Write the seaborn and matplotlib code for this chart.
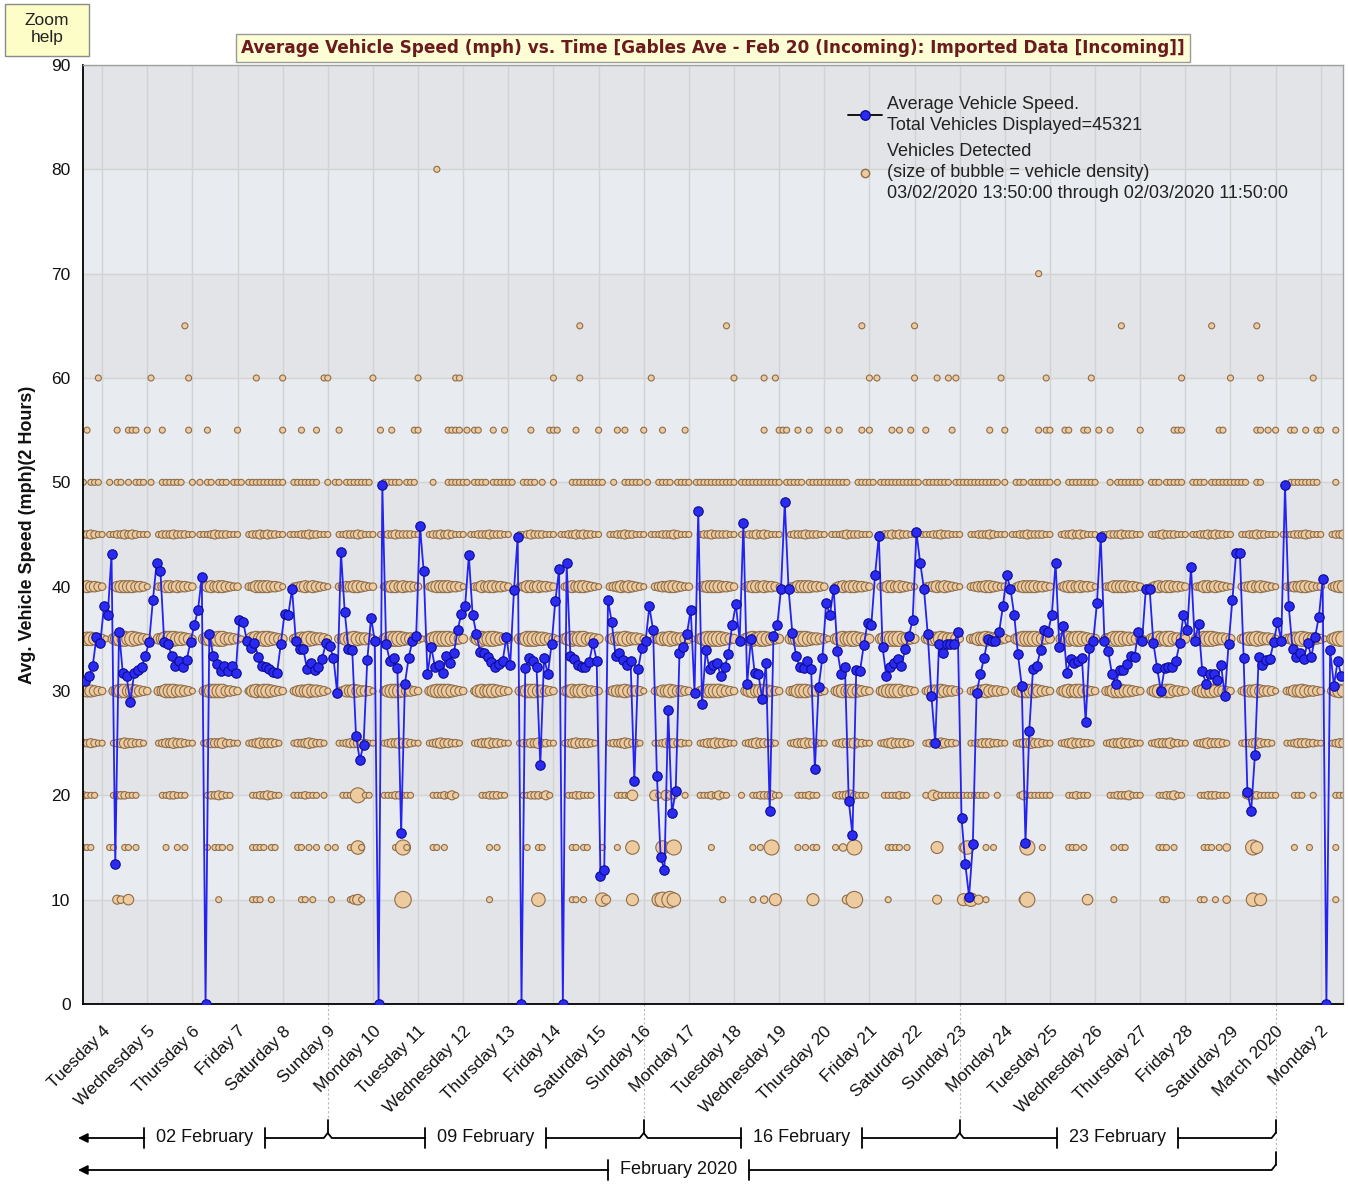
import numpy as np
import pandas as pd
import matplotlib
matplotlib.use('Agg')
from matplotlib import pyplot as plt
from matplotlib.lines import Line2D
from matplotlib.patches import Rectangle
import matplotlib.dates as mdates
import seaborn as sns

# ---- data ----
LINE_START = pd.Timestamp('2020-02-03 15:00')   # 2 hour averages
BUBBLE_START = pd.Timestamp('2020-02-03 14:00')  # bubble slots, 2 hours apart
VIEW = (pd.Timestamp('2020-02-03 13:50'), pd.Timestamp('2020-03-02 11:50'))

AVG_SPEED = [
    31.0, 31.4, 32.4, 35.2, 34.6, 38.1, 37.3, 43.1, 13.4, 35.7, 31.7,
    31.4, 28.9, 31.7, 32.0, 32.3, 33.4, 34.7, 38.7, 42.3, 41.5,
    34.7, 34.5, 33.4, 32.4, 32.9, 32.3, 33.0, 34.7, 36.3, 37.8,
    40.9, 0.0, 35.5, 33.4, 32.6, 31.9, 32.4, 31.9, 32.4, 31.7,
    36.8, 36.6, 34.8, 34.1, 34.6, 33.3, 32.4, 32.3, 32.1, 31.8,
    31.7, 34.5, 37.4, 37.3, 39.8, 34.8, 34.0, 34.0, 32.1, 32.7,
    32.0, 32.3, 33.1, 34.6, 34.3, 33.2, 29.8, 43.3, 37.6, 34.0,
    33.9, 25.7, 23.4, 24.8, 33.0, 37.0, 34.8, 0.0, 49.7, 34.5,
    32.9, 33.2, 32.2, 16.4, 30.7,
    33.2, 34.8, 35.3, 45.8, 41.5, 31.6, 34.2, 32.3, 32.5, 31.7,
    33.4, 32.7, 33.6, 35.8, 37.4, 38.1, 43.0, 37.3, 35.5, 33.7,
    33.6, 33.3, 32.8, 32.3, 32.6, 32.9, 35.2, 32.5, 39.7, 44.8,
    0.0, 32.2, 33.2, 32.9, 32.3, 22.9, 33.2, 31.6, 34.5, 38.6,
    41.7, 0.0, 42.3, 33.4, 33.1, 32.5, 32.3, 32.3, 32.8,
    34.6, 32.9, 12.3, 12.8, 38.7, 36.6, 33.4, 33.6, 33.0, 32.5,
    32.9, 21.4, 32.1, 34.1, 34.8, 38.1, 35.8, 21.9, 14.1, 12.8,
    28.2, 18.3, 20.4, 33.6, 34.2, 35.5, 37.8, 29.8, 47.3, 28.8,
    33.9, 32.1, 32.5, 32.7, 31.4, 32.3, 33.5, 36.3,
    38.3, 34.8, 46.1, 30.7, 35.0, 31.7, 31.6, 29.2, 32.7,
    18.5, 35.3, 36.3, 39.8, 48.1, 39.8, 35.6, 33.4, 32.3, 32.2,
    32.9, 32.1, 22.5, 30.4, 33.2, 38.4, 37.3, 39.8, 33.8, 31.6,
    32.3, 19.5, 16.2, 32.0, 31.9, 34.4, 36.5, 36.3, 41.1, 44.9,
    34.2, 31.4, 32.3, 32.7, 33.1, 32.4, 34.0, 35.3, 36.8, 45.2,
    42.3, 39.8, 35.5, 29.5, 25.0, 34.5, 33.6, 34.5, 34.5, 34.5,
    35.7, 17.8, 13.4, 10.3, 15.3, 29.8, 31.6, 33.2, 35.0, 34.8,
    34.8, 35.7, 38.1, 41.1, 39.8, 37.3, 33.5, 30.5, 15.4,
    26.2, 32.1, 32.4, 33.9, 35.8, 35.7, 37.3, 42.3, 34.2, 36.2,
    31.7, 33.1, 32.7, 32.9, 33.2, 27.0, 34.1, 34.8, 38.4, 44.8,
    34.8, 33.8, 31.6, 30.7, 32.0, 32.0, 32.6, 33.4, 33.3, 35.7,
    34.8, 39.8, 39.8, 34.6, 32.2, 30.0, 32.2, 32.3, 32.3, 32.9,
    34.6, 37.3, 35.8, 41.9, 34.8, 36.4, 31.9, 30.7, 31.6, 31.6,
    31.1, 32.5, 29.5, 34.5, 38.7, 43.2, 43.2, 33.2, 20.3, 18.5,
    23.9, 33.3, 32.5, 33.0, 33.1, 34.7, 36.6, 34.8, 49.7, 38.1,
    34.0, 33.3, 33.6, 33.1, 34.6, 33.3, 35.2, 37.1, 40.7, 0.0,
    33.9, 30.5, 32.9, 31.4,
]

# bubble rows: one digit per 2 hour slot (0 = none, 1..9 = bubble size)
# groups: Feb 3 14-22h, then one group of 12 slots (00..22h) per day, Mar 2 00-12h
ROW_25 = ("22321 100123433221 000123343321 100123334221 100123433321 000122343221 "
          "000112333221 100123343321 100123433221 000123343321 100122334221 100123433321 "
          "000122343221 000112333221 100123343321 100123433221 000123343321 100123334221 "
          "100123433321 000122343221 000112333221 100123343321 100123433221 000123343321 "
          "100123334221 100123433321 000122343221 000112333221 1001233")
ROW_30 = ("45543 200356656543 200346665543 100356666443 200256566543 200245565543 "
          "100235565443 100356665443 200356666543 200256566543 200346665543 200356566443 "
          "200245565443 100235565443 200356666543 200356566543 200346665443 200356566543 "
          "200356666443 200245565443 100235565443 200356666543 200356566543 200346665543 "
          "200356566443 200356665443 200245565443 100235565443 2003565")
ROW_35 = ("56654 310467767654 300457776654 200467677554 310367677654 300356676554 "
          "200346676554 200467776554 310467777654 300367677654 300457776654 310467677554 "
          "300356676554 200346676554 310467777654 300467677654 300457776554 310467677654 "
          "300467777554 300356676554 200346676554 310467777654 300467677654 300457776654 "
          "310467677554 300467776554 300356676554 200346676554 3104677")
ROW_40 = ("45443 200245555443 100235545443 200245455432 200235555443 100234545432 "
          "100234455432 200245545443 200245555443 100235455443 200235545443 200245455432 "
          "100234545432 100234455432 200245555443 200245545443 100235555443 200245455443 "
          "200235545432 100234545432 100234455432 200245555443 200245545443 100235555443 "
          "200245455443 200235545432 100234545432 100234455432 2002455")
ROW_45 = ("22321 101122323211 100122232221 101112322211 100122323221 101112232211 "
          "100112223211 101122322221 100122323211 101122232221 100112322211 101122323221 "
          "100112232211 101112223211 100122322221 101122323211 100122232221 101112322211 "
          "100122323221 101112232211 100112223211 101122322221 100122323211 101122232221 "
          "100112322211 101122323221 100112232211 101112223211 1001223")

# sparse rows: (slot, size)
ROW_10 = [(9, 3), (10, 2), (12, 4), (36, 1), (45, 1), (46, 1), (47, 1), (50, 1), (58, 1),
          (59, 1), (61, 1), (66, 1), (71, 1), (72, 3), (73, 4), (74, 1), (85, 8), (108, 1),
          (121, 6), (130, 1), (131, 1), (133, 1), (138, 6), (139, 3), (146, 5), (153, 6),
          (154, 7), (156, 8), (157, 6), (170, 1), (178, 1), (181, 2), (184, 5), (194, 5),
          (203, 3), (205, 8), (214, 1), (227, 3), (234, 5), (236, 6), (238, 3), (240, 1),
          (250, 3), (251, 7), (267, 4), (274, 1), (287, 1), (288, 1), (297, 1), (298, 1),
          (301, 1), (304, 2), (311, 6), (313, 5), (333, 1)]
ROW_15 = [(0, 1), (1, 1), (2, 1), (7, 1), (8, 1), (11, 1), (12, 1), (14, 1), (22, 1), (25, 1),
          (27, 1), (33, 1), (35, 1), (36, 1), (37, 1), (39, 1), (45, 1), (46, 1), (47, 1),
          (48, 1), (50, 1), (51, 1), (57, 1), (58, 1), (60, 1), (62, 1), (65, 1), (67, 1),
          (71, 1), (72, 1), (73, 6), (74, 1), (83, 1), (84, 2), (85, 7), (86, 1), (93, 1),
          (94, 1), (96, 1), (108, 1), (110, 1), (118, 1), (121, 1), (122, 1), (130, 1),
          (131, 1), (133, 1), (134, 1), (138, 1), (142, 1), (146, 6), (154, 6), (156, 4),
          (157, 7), (167, 1), (178, 1), (180, 1), (183, 7), (190, 1), (192, 1), (194, 1),
          (195, 1), (200, 1), (202, 2), (205, 7), (214, 1), (215, 1), (216, 1), (217, 1),
          (219, 1), (227, 5), (234, 3), (235, 6), (240, 1), (242, 1), (251, 7), (255, 1),
          (262, 1), (263, 1), (264, 1), (266, 1), (274, 1), (276, 1), (277, 1), (286, 1),
          (287, 1), (288, 1), (290, 1), (298, 1), (299, 1), (300, 1), (302, 1), (304, 2),
          (311, 7), (312, 5), (322, 1), (326, 1), (333, 1)]
ROW_20 = [(0, 2), (1, 1), (2, 1), (3, 1), (8, 1), (9, 2), (10, 2), (11, 2), (12, 1), (13, 1),
          (14, 1), (21, 1), (22, 1), (23, 2), (24, 2), (25, 1), (26, 1), (27, 1), (33, 1),
          (34, 2), (35, 2), (36, 3), (37, 2), (38, 1), (39, 1), (45, 1), (46, 1), (47, 2),
          (48, 2), (49, 3), (50, 2), (51, 1), (52, 1), (56, 1), (57, 1), (58, 1), (59, 2),
          (60, 1), (61, 1), (62, 1), (64, 1), (69, 1), (70, 1), (71, 1), (73, 7), (75, 1),
          (76, 1), (80, 1), (81, 1), (82, 1), (83, 2), (84, 2), (85, 1), (86, 1), (87, 1),
          (93, 1), (94, 1), (95, 1), (96, 2), (97, 1), (98, 3), (99, 1), (106, 1), (107, 1),
          (108, 2), (109, 2), (110, 2), (111, 1), (112, 1), (117, 1), (118, 1), (119, 2),
          (120, 2), (121, 2), (122, 1), (123, 3), (124, 1), (129, 1), (130, 1), (131, 2),
          (132, 2), (133, 1), (134, 1), (135, 1), (142, 1), (143, 1), (144, 1), (145, 1),
          (146, 4), (152, 4), (153, 1), (155, 4), (156, 2), (157, 2), (160, 1), (164, 1),
          (165, 1), (166, 1), (167, 2), (168, 1), (169, 3), (170, 1), (171, 1), (175, 1),
          (178, 1), (179, 1), (180, 2), (181, 2), (182, 2), (183, 3), (184, 1), (185, 1),
          (190, 1), (191, 1), (192, 1), (193, 2), (194, 1), (195, 1), (200, 1), (201, 2),
          (202, 2), (203, 3), (204, 4), (205, 2), (206, 1), (207, 1), (208, 1), (213, 1),
          (214, 1), (215, 1), (216, 1), (217, 2), (218, 1), (219, 1), (224, 1), (226, 4),
          (227, 2), (228, 1), (229, 1), (230, 1), (231, 1), (232, 1), (233, 1), (234, 1),
          (235, 1), (236, 1), (237, 1), (238, 1), (239, 1), (240, 1), (243, 1), (249, 1),
          (250, 3), (251, 1), (252, 1), (253, 1), (254, 1), (255, 1), (256, 1), (257, 1),
          (262, 1), (263, 1), (264, 2), (265, 1), (266, 1), (267, 1), (273, 1), (274, 1),
          (275, 2), (276, 2), (277, 2), (278, 3), (279, 1), (280, 1), (281, 1), (286, 1),
          (287, 1), (288, 2), (289, 2), (290, 3), (291, 1), (292, 1), (297, 1), (298, 1),
          (299, 2), (300, 2), (301, 2), (302, 1), (303, 1), (304, 1), (309, 1), (310, 3),
          (311, 2), (312, 2), (313, 1), (314, 1), (315, 1), (316, 1), (317, 1), (322, 1),
          (323, 1), (324, 1), (327, 1), (333, 1), (334, 1), (335, 1)]

# small dots only: slot numbers
ROW_50 = [0, 2, 3, 4, 7, 9, 10, 12, 14, 15, 16, 18, 21, 22, 23, 24, 25, 26, 29, 31, 33, 34,
          36, 37, 38, 40, 41, 42, 44, 45, 46, 47, 48, 49, 50, 51, 52, 53, 56, 57, 58, 59, 60,
          61, 62, 65, 67, 68, 70, 71, 72, 73, 74, 75, 76, 80, 81, 82, 83, 84, 86, 87, 88, 93,
          97, 98, 99, 100, 101, 102, 104, 105, 106, 107, 109, 110, 111, 112, 113, 114, 117,
          118, 119, 120, 122, 125, 130, 131, 132, 133, 134, 135, 136, 137, 138, 141, 144,
          145, 146, 147, 148, 150, 153, 154, 155, 156, 158, 159, 160, 161, 163, 164, 165,
          166, 167, 168, 169, 170, 171, 172, 173, 175, 176, 177, 178, 179, 180, 181, 182,
          183, 184, 185, 187, 188, 189, 190, 191, 193, 194, 195, 196, 197, 198, 199, 200,
          201, 202, 203, 206, 207, 208, 209, 210, 212, 213, 214, 215, 216, 217, 218, 219,
          220, 221, 222, 224, 225, 226, 227, 228, 229, 230, 232, 233, 234, 235, 236, 237,
          238, 239, 240, 241, 242, 243, 245, 248, 249, 250, 252, 253, 254, 255, 256, 257,
          259, 262, 263, 264, 265, 266, 267, 268, 269, 273, 275, 276, 277, 278, 279, 280,
          281, 284, 285, 286, 288, 289, 290, 291, 292, 295, 296, 297, 298, 300, 301, 302,
          303, 304, 305, 306, 307, 308, 309, 312, 313, 321, 322, 323, 324, 325, 326, 327,
          328, 333]
ROW_55 = [1, 9, 12, 13, 14, 17, 21, 28, 33, 41, 53, 58, 62, 68, 79, 82, 88, 89, 97, 98, 99,
          100, 102, 104, 105, 109, 112, 119, 124, 125, 126, 131, 137, 142, 144, 149, 154,
          160, 181, 185, 186, 187, 190, 193, 198, 201, 207, 209, 215, 217, 220, 224, 231,
          241, 245, 254, 256, 257, 261, 262, 266, 267, 270, 273, 281, 290, 291, 292, 302,
          303, 312, 313, 315, 317, 321, 322, 325, 328, 329, 333]
ROW_60 = [4, 18, 28, 46, 53, 64, 65, 77, 89, 99, 100, 125, 132, 151, 173, 181, 184, 209, 211,
          221, 227, 230, 232, 244, 256, 268, 292, 305, 313, 327]
ROW_65 = [27, 132, 171, 207, 221, 276, 300, 312]
ROW_70 = [254]
ROW_80 = [94]

DAY_LABELS = ['Tuesday 4', 'Wednesday 5', 'Thursday 6', 'Friday 7', 'Saturday 8', 'Sunday 9',
              'Monday 10', 'Tuesday 11', 'Wednesday 12', 'Thursday 13', 'Friday 14',
              'Saturday 15', 'Sunday 16', 'Monday 17', 'Tuesday 18', 'Wednesday 19',
              'Thursday 20', 'Friday 21', 'Saturday 22', 'Sunday 23', 'Monday 24',
              'Tuesday 25', 'Wednesday 26', 'Thursday 27', 'Friday 28', 'Saturday 29',
              'March 2020', 'Monday 2']
WEEK_LABELS = ['02 February', '09 February', '16 February', '23 February']
WEEK_ENDS = ['2020-02-09', '2020-02-16', '2020-02-23', '2020-03-01']
MONTH_LABEL = 'February 2020'

TITLE = ('Average Vehicle Speed (mph) vs. Time [Gables Ave - Feb 20 (Incoming): '
         'Imported Data [Incoming]]')

# ---- build frames ----
line_df = pd.DataFrame({
    'time': LINE_START + pd.to_timedelta(np.arange(len(AVG_SPEED)) * 2, unit='h'),
    'speed': AVG_SPEED,
})

records = []
for level, text in {25: ROW_25, 30: ROW_30, 35: ROW_35, 40: ROW_40, 45: ROW_45}.items():
    for i, ch in enumerate(text.replace(' ', '')):
        if ch != '0':
            records.append((level, i, int(ch)))
for level, pairs in {10: ROW_10, 15: ROW_15, 20: ROW_20}.items():
    for i, k in pairs:
        records.append((level, i, k))
for level, slots in {50: ROW_50, 55: ROW_55, 60: ROW_60, 65: ROW_65,
                     70: ROW_70, 80: ROW_80}.items():
    for i in slots:
        records.append((level, i, 1))
bub = pd.DataFrame(records, columns=['speed', 'slot', 'size'])
bub['time'] = BUBBLE_START + pd.to_timedelta(bub['slot'] * 2, unit='h')
bub = bub.sort_values(['time', 'speed'])

# marker area (pt^2) for each size digit
size_map = {k: ((4.5 + 1.5 * k) * 0.72) ** 2 for k in range(1, 10)}

# ---- figure ----
sns.set_theme(style='white')
plt.rcParams['font.family'] = ['Liberation Sans', 'DejaVu Sans']

W, H = 1348, 1190
fig = plt.figure(figsize=(W / 100, H / 100), dpi=100)
fig.patch.set_facecolor('white')
ax = fig.add_axes([83 / W, 1 - 1004 / H, 1260 / W, 939 / H])

# alternating bands
for lo in range(0, 90, 10):
    ax.axhspan(lo, lo + 10, color='#e3e4e7' if (lo // 10) % 2 == 0 else '#e8ebef',
               zorder=0, lw=0)

sns.scatterplot(data=bub, x='time', y='speed', size='size', sizes=size_map,
                color='#eecb9f', edgecolor='#8e6d4b', linewidth=0.8, alpha=1,
                legend=False, ax=ax, zorder=2)
sns.lineplot(data=line_df, x='time', y='speed', estimator=None, sort=False,
             color='#2323f2', lw=1.3, marker='o', markersize=6.8,
             markerfacecolor='#2a2af2', markeredgecolor='#0c0c90', markeredgewidth=0.8,
             ax=ax, zorder=3)

ax.set_xlim(VIEW[0], VIEW[1])
ax.set_ylim(0, 90)
ax.set_yticks(range(0, 91, 10))
ticks = pd.date_range('2020-02-04', '2020-03-02', freq='D')
ax.set_xticks(ticks)
ax.set_xticklabels(DAY_LABELS, rotation=45, ha='right', rotation_mode='anchor')
ax.tick_params(axis='both', which='major', direction='out', length=6, width=1,
               color='black', labelsize=12.5, labelcolor='#111111', pad=3)
ax.tick_params(axis='x', pad=8)
ax.grid(True, color='#d3d3d3', lw=1)
ax.set_axisbelow(True)
ax.set_xlabel('')
ax.set_ylabel('Avg. Vehicle Speed (mph)(2 Hours)', fontsize=13, fontweight='bold',
              color='#111111')
ax.yaxis.set_label_coords(-0.037, 0.5)
for side in ['left', 'bottom']:
    ax.spines[side].set_color('black')
    ax.spines[side].set_linewidth(1.3)
for side in ['top', 'right']:
    ax.spines[side].set_color('#a0a0a0')
    ax.spines[side].set_linewidth(1)

# legend
h_line = Line2D([], [], color='black', lw=1.3, marker='o', markersize=6.8,
                markerfacecolor='#2a2af2', markeredgecolor='#0c0c90')
h_bub = Line2D([], [], ls='none', marker='o', markersize=6,
               markerfacecolor='#eecb9f', markeredgecolor='#8e6d4b')
leg = ax.legend([h_line, h_bub],
                ['Average Vehicle Speed.\nTotal Vehicles Displayed=45321',
                 'Vehicles Detected\n(size of bubble = vehicle density)\n'
                 '03/02/2020 13:50:00 through 02/03/2020 11:50:00'],
                loc='upper left', bbox_to_anchor=(0.6, 0.977), frameon=False,
                fontsize=13.0, handlelength=1.9, handletextpad=0.25,
                labelspacing=0.55, borderpad=0)
for t in leg.get_texts():
    t.set_color('#222222')
    t.set_linespacing(1.3)

# title box and zoom help box
fig.text(713 / W, 1 - 48 / H, TITLE, ha='center', va='center', fontsize=12.2,
         fontweight='bold', color='#6a1c1c', family='DejaVu Sans',
         bbox=dict(boxstyle='square,pad=0.3', fc='#fdfdd6', ec='#9a9a9a', lw=1))
fig.patches.append(Rectangle((5 / W, 1 - 56 / H), 84 / W, 52 / H, transform=fig.transFigure,
                             fc='#fdfdc8', ec='#8a8a8a', lw=1))
fig.text(47 / W, 1 - 29 / H, 'Zoom\nhelp', ha='center', va='center', fontsize=12.5,
         color='#222222', linespacing=1.15)

# ---- bracket annotations below the axis ----
x0, x1 = mdates.date2num(VIEW[0]), mdates.date2num(VIEW[1])


def frac(d):
    return (mdates.date2num(pd.Timestamp(d)) - x0) / (x1 - x0)


px = 1 / 1260.0
py = 1 / 939.0
tr = ax.transAxes
kw = dict(color='black', lw=1.3, transform=tr, clip_on=False)
left = -5 * px


def bracket(y, start, end, label, half, arrow, tip_left):
    c = (start + end) / 2 if not arrow else (left + end) / 2 + 2 * px
    a, b = c - half, c + half
    ax.text(c, y, label, transform=tr, ha='center', va='center', fontsize=13,
            color='#111111')
    ax.plot([a, a], [y - 10 * py, y + 10 * py], **kw)
    ax.plot([b, b], [y - 10 * py, y + 10 * py], **kw)
    if arrow:
        ax.annotate('', xy=(left, y), xytext=(a, y), xycoords=tr, textcoords=tr,
                    arrowprops=dict(arrowstyle='-|>', color='black', lw=1.3,
                                    mutation_scale=14, shrinkA=0, shrinkB=0),
                    annotation_clip=False)
    elif tip_left:
        ax.plot([start, start + 4 * px, a], [y + 5 * py, y, y], **kw)
    # right side rises into the tip at the end point
    ax.plot([b, end - 4 * px, end], [y, y, y + 5 * py], **kw)
    ax.plot([end, end], [y + 5 * py, y + 18 * py], **kw)


y1 = -134 * py
y2 = -166 * py
bounds = [frac(d) for d in WEEK_ENDS]
starts = [left] + bounds[:-1]
for i, lab in enumerate(WEEK_LABELS):
    bracket(y1, starts[i], bounds[i], lab, 60.5 * px, i == 0, i > 0)
bracket(y2, left, bounds[-1], MONTH_LABEL, 70.5 * px, True, False)

for b in bounds:
    ax.plot([b, b], [0, y1 + 18 * py], color='#b8b8b8', lw=0.8, ls=(0, (2, 2)),
            transform=tr, clip_on=False, zorder=0)
ax.plot([bounds[-1], bounds[-1]], [y1, y2 + 18 * py], color='#b8b8b8', lw=0.8,
        ls=(0, (2, 2)), transform=tr, clip_on=False, zorder=0)

fig.savefig('out.png', dpi=100)
